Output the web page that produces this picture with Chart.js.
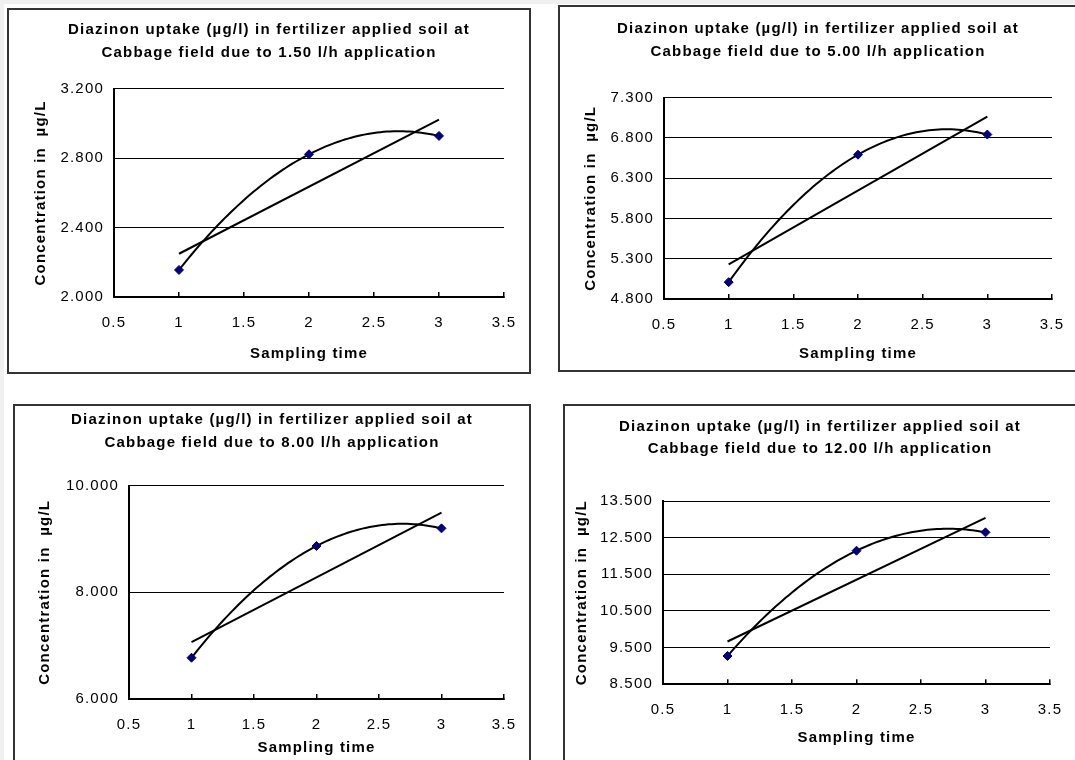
<!DOCTYPE html>
<html><head><meta charset="utf-8">
<script src="https://cdn.jsdelivr.net/npm/chart.js@4.4.0/dist/chart.umd.min.js"></script>
<style>
html,body{margin:0;padding:0;background:#fff;width:1075px;height:760px;overflow:hidden;position:relative;}
.strip-top{position:absolute;left:0;top:0;width:1075px;height:4px;background:#f0f0f0}
.strip-left{position:absolute;left:0;top:0;width:4px;height:760px;background:#f0f0f0}
.panel{position:absolute;border:2px solid #333;box-sizing:border-box;background:#fff}
.panel canvas{position:absolute;left:0;top:0}
</style></head><body>
<div class="strip-top"></div><div class="strip-left"></div>
<script>
// ---- data ----
const samplingTime = [1, 2, 3];
const rates = ['1.50', '5.00', '8.00', '12.00'];
const conc150 = [2.156, 2.823, 2.929];
const conc500 = [5.009, 6.592, 6.842];
const conc800 = [6.774, 8.869, 9.200];
const conc1200 = [9.272, 12.144, 12.645];
const xTicks = [0.5, 1, 1.5, 2, 2.5, 3, 3.5];
const yTicks150 = [2.0, 2.4, 2.8, 3.2];
const yTicks500 = [4.8, 5.3, 5.8, 6.3, 6.8, 7.3];
const yTicks800 = [6, 8, 10];
const yTicks1200 = [8.5, 9.5, 10.5, 11.5, 12.5, 13.5];
const titleLine1 = 'Diazinon uptake (µg/l) in fertilizer applied soil at';
const xTitle = 'Sampling time';
const yTitle = 'Concentration in  µg/L';

const seriesList = [conc150, conc500, conc800, conc1200];
const yTickList = [yTicks150, yTicks500, yTicks800, yTicks1200];

// ---- layout (positions / sizes only) ----
const panels = [
  {box:[7,8,524,366],   yW:105, rW:25, tLH:23.3, tPadT:8.35,  tPadB:24.0,  xH:75,   xPadB:9,    yPad:22.6},
  {box:[558,5,520,367], yW:104, rW:24, tLH:23.3, tPadT:10.35, tPadB:33.7,  xH:71,   xPadB:7,    yPad:22},
  {box:[13,404,518,370],yW:114, rW:25, tLH:23.7, tPadT:1.65,  tPadB:30.65, xH:73,   xPadB:15.3, yPad:20.8},
  {box:[563,404,514,370],yW:98, rW:25, tLH:22.0, tPadT:10.3,  tPadB:40.7,  xH:87.7, xPadB:24.7, yPad:7.7}
];

const FONT = "'Liberation Sans', Arial, sans-serif";

function polyFit(xs, ys, deg) {
  const n = deg + 1;
  const A = Array.from({length:n}, () => Array(n + 1).fill(0));
  for (let r = 0; r < n; r++) {
    for (let c = 0; c < n; c++) A[r][c] = xs.reduce((s, x) => s + Math.pow(x, r + c), 0);
    A[r][n] = xs.reduce((s, x, i) => s + ys[i] * Math.pow(x, r), 0);
  }
  for (let i = 0; i < n; i++) {
    let p = i;
    for (let k = i + 1; k < n; k++) if (Math.abs(A[k][i]) > Math.abs(A[p][i])) p = k;
    [A[i], A[p]] = [A[p], A[i]];
    for (let k = i + 1; k < n; k++) {
      const f = A[k][i] / A[i][i];
      for (let j = i; j <= n; j++) A[k][j] -= f * A[i][j];
    }
  }
  const coef = Array(n).fill(0);
  for (let i = n - 1; i >= 0; i--) {
    let s = A[i][n];
    for (let j = i + 1; j < n; j++) s -= A[i][j] * coef[j];
    coef[i] = s / A[i][i];
  }
  return coef;
}
const evalPoly = (c, x) => c.reduce((s, a, i) => s + a * Math.pow(x, i), 0);

const spacing = {
  id: 'spacing',
  beforeUpdate(c) { c.ctx.letterSpacing = '1.2px'; },
  beforeDraw(c) { c.ctx.letterSpacing = '1.2px'; }
};

panels.forEach((p, idx) => {
  const [L, T, W, H] = p.box;
  const div = document.createElement('div');
  div.className = 'panel';
  div.style.left = L + 'px'; div.style.top = T + 'px';
  div.style.width = W + 'px'; div.style.height = H + 'px';
  const cv = document.createElement('canvas');
  const cw = W - 4, ch = H - 4;
  cv.width = cw; cv.height = ch;
  cv.style.width = cw + 'px'; cv.style.height = ch + 'px';
  div.appendChild(cv);
  document.body.appendChild(div);

  const ys = seriesList[idx];
  const yt = yTickList[idx];
  const lin = polyFit(samplingTime, ys, 1);
  const quad = polyFit(samplingTime, ys, 2);
  const x0 = samplingTime[0], x1 = samplingTime[samplingTime.length - 1];
  const quadPts = [];
  for (let k = 0; k <= 80; k++) {
    const x = x0 + (x1 - x0) * k / 80;
    quadPts.push({x, y: evalPoly(quad, x)});
  }
  const linPts = [{x: x0, y: evalPoly(lin, x0)}, {x: x1, y: evalPoly(lin, x1)}];

  new Chart(cv, {
    type: 'scatter',
    data: {
      datasets: [
        {data: samplingTime.map((x, i) => ({x, y: ys[i]})), showLine: false,
         pointStyle: 'rectRot', pointRadius: 4.5, pointHoverRadius: 4.5,
         backgroundColor: '#000080', borderColor: '#000080', borderWidth: 1, order: 0},
        {data: quadPts, showLine: true, pointRadius: 0, borderColor: '#000', borderWidth: 2,
         tension: 0, order: 1},
        {data: linPts, showLine: true, pointRadius: 0, borderColor: '#000', borderWidth: 2, order: 2}
      ]
    },
    options: {
      responsive: false, animation: false, devicePixelRatio: 1,
      layout: {padding: 0},
      plugins: {
        legend: {display: false}, tooltip: {enabled: false},
        title: {display: true, text: [titleLine1, 'Cabbage field due to ' + rates[idx] + ' l/h application'],
          color: '#000', font: {family: FONT, size: 15, weight: 'bold', lineHeight: p.tLH / 15},
          padding: {top: p.tPadT, bottom: p.tPadB}}
      },
      scales: {
        x: {type: 'linear', position: 'bottom', min: xTicks[0], max: xTicks[xTicks.length - 1],
          afterBuildTicks: s => { s.ticks = xTicks.map(v => ({value: v})); },
          afterFit: s => { s.height = p.xH; s.paddingLeft = 0; s.paddingRight = 0; },
          grid: {drawOnChartArea: false, drawTicks: true, tickLength: -5, color: '#000', lineWidth: 1.5},
          border: {display: true, color: '#000', width: 2},
          ticks: {color: '#000', font: {family: FONT, size: 15}, padding: 22, maxRotation: 0,
            autoSkip: false, callback: v => String(v)},
          title: {display: true, text: xTitle, color: '#000', font: {family: FONT, size: 15, weight: 'bold', lineHeight: 1.2},
            padding: {top: 0, bottom: p.xPadB}}
        },
        y: {type: 'linear', position: 'left', min: yt[0], max: yt[yt.length - 1],
          afterBuildTicks: s => { s.ticks = yt.map(v => ({value: v})); },
          afterFit: s => { s.width = p.yW; },
          grid: {drawOnChartArea: true, drawTicks: false, color: '#000', lineWidth: 1},
          border: {display: true, color: '#000', width: 2},
          ticks: {color: '#000', font: {family: FONT, size: 15}, padding: 10, autoSkip: false,
            callback: v => Number(v).toFixed(3)},
          title: {display: true, text: yTitle, color: '#000', font: {family: FONT, size: 15, weight: 'bold', lineHeight: 1.2},
            padding: {top: p.yPad, bottom: 0}}
        },
        yR: {type: 'linear', position: 'right', display: true,
          grid: {display: false, drawTicks: false}, border: {display: false},
          ticks: {display: false}, title: {display: false},
          afterFit: s => { s.width = p.rW; }}
      }
    },
    plugins: [spacing]
  });
});
</script>
</body></html>
